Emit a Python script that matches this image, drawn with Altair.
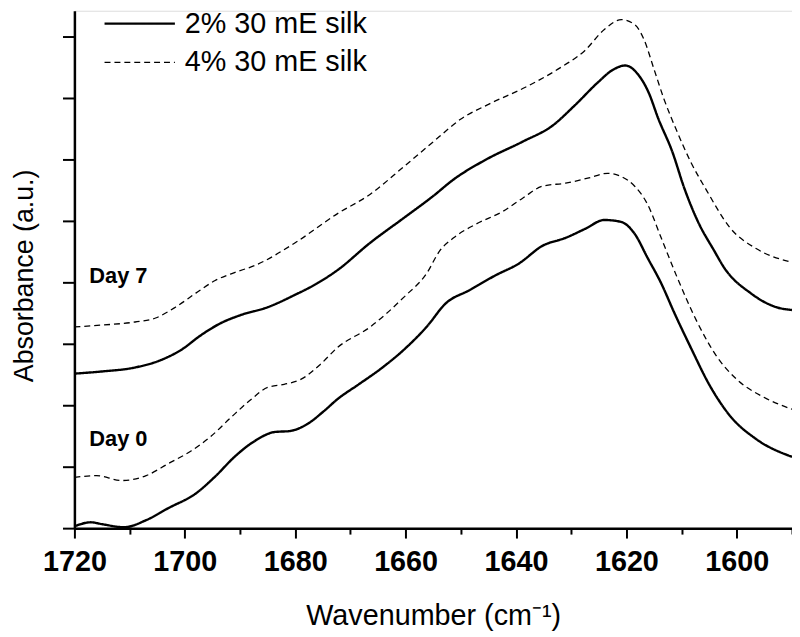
import altair as alt
import pandas as pd

# ---- data ----
# Day 0, 2% (solid)
d0_2_wn = [1720, 1717, 1715, 1711, 1707, 1703, 1698, 1694.5, 1691, 1687.3, 1683.7, 1681,
           1677.8, 1674.8, 1672.4, 1668.5, 1664.7, 1660.3, 1656.2, 1652.7, 1648.5, 1643.7,
           1639.5, 1635.2, 1631, 1627.5, 1624, 1621, 1618.5, 1616.2, 1613.7, 1611.3,
           1608.4, 1604.8, 1601.2, 1596.5, 1590]
d0_2_abs = [0.006, 0.019, 0.013, 0.003, 0.026, 0.065, 0.113, 0.168, 0.232, 0.284, 0.313, 0.316,
            0.339, 0.381, 0.419, 0.468, 0.516, 0.581, 0.655, 0.732, 0.774, 0.823,
            0.861, 0.919, 0.945, 0.974, 1.003, 0.997, 0.958, 0.881, 0.797, 0.700,
            0.590, 0.461, 0.365, 0.290, 0.232]

# Day 0, 4% (dashed)
d0_4_wn = [1720, 1716, 1711.4, 1707, 1703, 1698.8, 1695.2, 1691.6, 1688, 1685, 1682, 1679,
           1675.5, 1672.4, 1666.4, 1660.3, 1656.2, 1653.8, 1651.3, 1647.2, 1642.3, 1638.8,
           1635.2, 1631, 1627, 1623.4, 1621, 1618.5, 1616.2, 1613.7, 1610.8, 1607.1,
           1603.6, 1600, 1595.1, 1590]
d0_4_abs = [0.165, 0.171, 0.155, 0.171, 0.210, 0.252, 0.300, 0.361, 0.419, 0.458, 0.468, 0.484,
            0.532, 0.587, 0.655, 0.752, 0.829, 0.903, 0.945, 0.990, 1.032, 1.074,
            1.113, 1.123, 1.139, 1.155, 1.145, 1.113, 1.055, 0.945, 0.816, 0.668,
            0.558, 0.484, 0.426, 0.387]

# Day 7, 2% (solid)
d7_2_wn = [1720, 1715, 1709, 1704.2, 1700.6, 1697, 1693.4, 1689.8, 1685, 1680.2, 1676, 1672.4,
           1666.4, 1660.3, 1655, 1651.3, 1645.4, 1638.8, 1633.4, 1629.3, 1625.1, 1622.6,
           1620.2, 1617.9, 1616, 1614.2, 1611.7, 1609.5, 1607.1, 1604.1, 1602.3, 1597.5,
           1592.8, 1590]
d7_2_abs = [0.503, 0.510, 0.523, 0.548, 0.581, 0.629, 0.668, 0.694, 0.719, 0.758, 0.797, 0.839,
            0.929, 1.010, 1.081, 1.135, 1.200, 1.258, 1.310, 1.377, 1.452, 1.490,
            1.506, 1.477, 1.419, 1.332, 1.226, 1.106, 1.000, 0.903, 0.848, 0.765,
            0.719, 0.710]

# Day 7, 4% (dashed)
d7_4_wn = [1720, 1715, 1709, 1705.3, 1701.7, 1698, 1694.5, 1691, 1687.3, 1680, 1672.4,
           1666.4, 1660.3, 1654.3, 1650.2, 1644.8, 1638.3, 1632.4, 1627.5, 1624, 1620.9,
           1618.5, 1616.8, 1615, 1613.2, 1610.8, 1608.4, 1605.4, 1601.2, 1596.5, 1590]
d7_4_abs = [0.655, 0.661, 0.671, 0.684, 0.719, 0.765, 0.806, 0.832, 0.855, 0.929, 1.023,
            1.087, 1.177, 1.268, 1.329, 1.381, 1.435, 1.494, 1.555, 1.623, 1.655,
            1.639, 1.590, 1.494, 1.397, 1.290, 1.194, 1.097, 0.977, 0.910, 0.865]

samples = ["2% 30 mE silk", "4% 30 mE silk"]
days = ["Day 0", "Day 7"]

x_ticks = [1720, 1710, 1700, 1690, 1680, 1670, 1660, 1650, 1640, 1630, 1620, 1610, 1600, 1590]
y_ticks = [0.0, 0.1, 0.2, 0.3, 0.4, 0.5, 0.6, 0.7, 0.8, 0.9, 1.0, 1.1, 1.2, 1.3, 1.4, 1.5, 1.6]

label_text = ["Day 7", "Day 0"]
label_wn = [1717.3, 1717.3]
label_abs = [0.819, 0.290]

# ---- build table ----
rows = []
for day, samp, wn, ab in [
    (days[0], samples[0], d0_2_wn, d0_2_abs),
    (days[0], samples[1], d0_4_wn, d0_4_abs),
    (days[1], samples[0], d7_2_wn, d7_2_abs),
    (days[1], samples[1], d7_4_wn, d7_4_abs),
]:
    for w, a in zip(wn, ab):
        rows.append({"Day": day, "Sample": samp, "wn": w, "abs": a})
df = pd.DataFrame(rows)
lab = pd.DataFrame({"text": label_text, "wn": label_wn, "abs": label_abs})

FONT = "Liberation Sans"

x_enc = alt.X(
    "wn:Q",
    scale=alt.Scale(domain=[1720, 1590], nice=False, zero=False),
    axis=alt.Axis(
        values=x_ticks,
        format="d",
        labelExpr="datum.value % 20 === 0 ? datum.label : ''",
        title="Wavenumber (cm\u207b\u00b9)",
        titleFont=FONT, titleFontSize=29, titleFontWeight="normal", titleColor="black",
        titleY=97, titleBaseline="alphabetic",
        labelFont=FONT, labelFontSize=29, labelFontWeight="bold", labelColor="black",
        labelPadding=10,
        tickSize={"condition": {"test": "datum.value % 20 === 0", "value": 10}, "value": 6},
        tickWidth=2, tickColor="black",
        domainWidth=2.5, domainColor="black",
        grid=False, labelFlush=False, labelOverlap=False,
    ),
)
y_enc = alt.Y(
    "abs:Q",
    scale=alt.Scale(domain=[0, 1.684], nice=False, zero=False),
    axis=alt.Axis(
        values=y_ticks,
        labels=False,
        title="Absorbance (a.u.)",
        titleFont=FONT, titleFontSize=27, titleFontWeight="normal", titleColor="black",
        titleX=-42, titleY=267, titleBaseline="alphabetic", titleAngle=-90,
        tickSize={"condition": {"test": "round(datum.value * 10) % 2 === 0", "value": 12}, "value": 7},
        tickWidth=2, tickColor="black",
        domainWidth=2.5, domainColor="black",
        grid=False,
    ),
)

leg = alt.Legend(
    title=None, orient="none", legendX=51.4, legendY=-1.5,
    symbolType="M-5,0H5", symbolSize=201.6, symbolStrokeColor="black",
    symbolFillColor="transparent",
    labelFont=FONT, labelFontSize=29, labelColor="black", labelOffset=31,
    rowPadding=9, labelLimit=400,
)

lines = alt.Chart(df).mark_line(color="black", interpolate="monotone").encode(
    x=x_enc,
    y=y_enc,
    detail="Day:N",
    strokeDash=alt.StrokeDash(
        "Sample:N",
        scale=alt.Scale(domain=samples, range=[[1, 0], [6, 4]]),
        legend=leg,
    ),
    strokeWidth=alt.StrokeWidth(
        "Sample:O",
        scale=alt.Scale(domain=samples, range=[2.4, 1.3]),
        legend=leg,
    ),
)

texts = alt.Chart(lab).mark_text(
    align="left", baseline="middle", font=FONT, fontSize=22, fontWeight="bold", color="black"
).encode(
    x=alt.X("wn:Q"),
    y=alt.Y("abs:Q"),
    text="text:N",
)

chart = (
    alt.layer(lines, texts)
    .properties(
        width=724,
        height=522,
        padding={"left": 67, "top": 0, "right": 0, "bottom": 104},
        autosize=alt.AutoSizeParams(type="none"),
    )
    .configure_view(stroke=None)
    .configure(background="white")
)

chart.save("out.html", embed_options={"renderer": "svg", "actions": False})
